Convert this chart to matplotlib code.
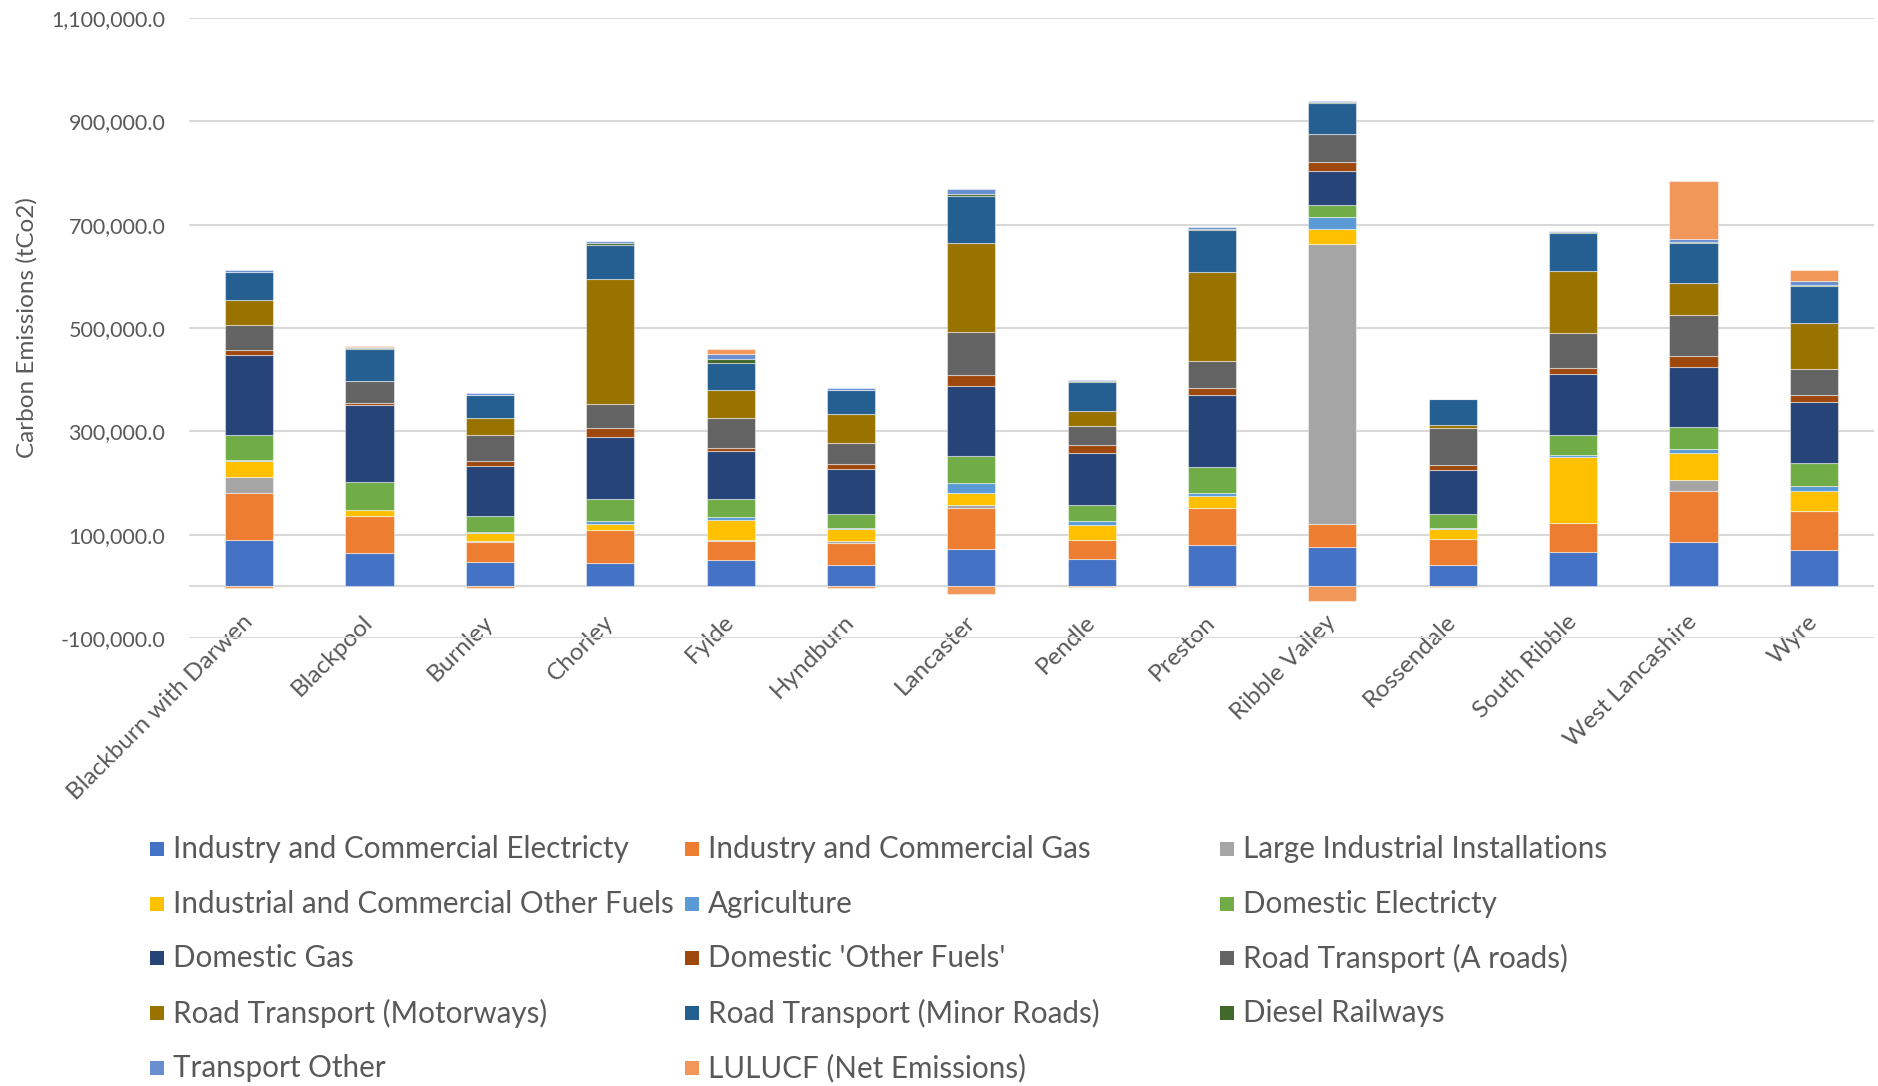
import numpy as np
import matplotlib
matplotlib.use("Agg")
import matplotlib.pyplot as plt
from matplotlib.patches import Rectangle
from matplotlib.ticker import FuncFormatter

plt.rcParams['font.family'] = ['Lato', 'DejaVu Sans']

districts = ["Blackburn with Darwen", "Blackpool", "Burnley", "Chorley", "Fylde",
             "Hyndburn", "Lancaster", "Pendle", "Preston", "Ribble Valley",
             "Rossendale", "South Ribble", "West Lancashire", "Wyre"]

# emissions by sector, tCO2, one value per district
ic_elec = [90400, 65000, 47100, 45200, 51600, 40600, 72200, 52200, 79100, 75800, 41900, 65800, 85100, 71000]
ic_gas = [91200, 71500, 38700, 63800, 36800, 43200, 78700, 38100, 73200, 45100, 49700, 56800, 98700, 74200]
large_ind = [30100, 0, 1000, 0, 2000, 4500, 5800, 0, 0, 541200, 0, 0, 22600, 0]
ic_other = [31000, 10500, 16800, 11000, 38000, 23200, 23900, 29000, 22900, 30100, 20000, 127100, 51600, 38700]
agriculture = [2400, 500, 1000, 5800, 5800, 1000, 19400, 6500, 5200, 22200, 1000, 3900, 7700, 11000]
dom_elec = [48000, 54500, 31900, 42600, 34800, 27700, 52900, 31600, 49700, 24200, 27100, 40000, 43200, 43900]
dom_gas = [154800, 148800, 96700, 120600, 92200, 87100, 135500, 100000, 139900, 64700, 84500, 116700, 115500, 117400]
dom_other = [9000, 4000, 9000, 17400, 6500, 9000, 20000, 16100, 14400, 17600, 10300, 12900, 20600, 13500]
road_a = [49700, 42300, 50900, 47100, 57400, 41900, 83200, 37400, 52300, 54900, 72900, 67100, 80000, 51600]
motorways = [47200, 0, 32900, 241900, 54200, 54800, 173500, 28400, 171900, 0, 3900, 120600, 62600, 88400]
minor_roads = [53800, 62600, 43900, 66000, 52200, 46400, 89700, 55500, 80400, 58800, 51000, 72900, 76800, 71000]
diesel_rail = [800, 1000, 1000, 4000, 7700, 500, 3900, 2000, 3300, 3300, 0, 2000, 2000, 2000]
transport_other = [3000, 2500, 3500, 3000, 9700, 4500, 10300, 3200, 3300, 1000, 600, 2000, 6500, 7700]
lulucf = [-3500, 1000, -2500, 0, 9700, -3000, -14800, -2000, -2000, -28000, -2000, 0, 112200, 21300]

series = [
    ("Industry and Commercial Electricty", ic_elec, "#4472C4"),
    ("Industry and Commercial Gas", ic_gas, "#ED7D31"),
    ("Large Industrial Installations", large_ind, "#A5A5A5"),
    ("Industrial and Commercial Other Fuels", ic_other, "#FFC000"),
    ("Agriculture", agriculture, "#5B9BD5"),
    ("Domestic Electricty", dom_elec, "#70AD47"),
    ("Domestic Gas", dom_gas, "#264478"),
    ("Domestic 'Other Fuels'", dom_other, "#9E480E"),
    ("Road Transport (A roads)", road_a, "#636363"),
    ("Road Transport (Motorways)", motorways, "#997300"),
    ("Road Transport (Minor Roads)", minor_roads, "#255E91"),
    ("Diesel Railways", diesel_rail, "#43682B"),
    ("Transport Other", transport_other, "#698ED0"),
    ("LULUCF (Net Emissions)", lulucf, "#F1975A"),
]

TEXT = "#595959"
GRID = "#D9D9D9"

fig = plt.figure(figsize=(18.78, 10.86), dpi=100)
ax = fig.add_axes([189 / 1878, 1 - 638 / 1086, 1685 / 1878, 620 / 1086])

x = np.arange(len(districts))
pos_base = np.zeros(len(districts))
neg_base = np.zeros(len(districts))
for name, vals, color in series:
    v = np.array(vals, dtype=float)
    bottom = np.where(v >= 0, pos_base, neg_base)
    ax.bar(x, v, 0.4, bottom=bottom, color=color, edgecolor=(1, 1, 1, 0.45),
           linewidth=0.8, zorder=3)
    pos_base += np.where(v >= 0, v, 0)
    neg_base += np.where(v < 0, v, 0)

ax.set_xlim(-0.5, len(districts) - 0.5)
ax.set_ylim(-100000, 1100000)
ax.set_yticks(np.arange(-100000, 1100001, 200000))
ax.yaxis.set_major_formatter(FuncFormatter(lambda v, p: f"{v:,.1f}"))
ax.grid(axis='y', color=GRID, linewidth=1.5, zorder=0)
ax.axhline(0, color=GRID, linewidth=1.5, zorder=1)
for s in ax.spines.values():
    s.set_visible(False)
ax.tick_params(axis='y', length=0, pad=17, labelsize=15.5, labelcolor=TEXT)

ax.set_xticks(x)
ax.set_xticklabels(districts, rotation=45, ha='right', va='center',
                   rotation_mode='anchor')
ax.tick_params(axis='x', length=0, pad=-14, labelsize=17.5, labelcolor=TEXT)

fig.text(27 / 1878, 1 - 328 / 1086, "Carbon Emissions (tCo2)", rotation=90,
         ha='center', va='center', fontsize=17.5, color=TEXT)

# legend laid out in three fixed columns, filled row by row
col_x = [150, 685, 1220]
row_y = [849, 904, 958, 1013, 1068]
for i, (name, vals, color) in enumerate(series):
    cx = col_x[i % 3]
    cy = row_y[i // 3]
    fig.patches.append(Rectangle((cx / 1878, 1 - (cy + 7) / 1086), 14 / 1878, 14 / 1086,
                                 transform=fig.transFigure, facecolor=color,
                                 edgecolor='none'))
    fig.text((cx + 23) / 1878, 1 - cy / 1086, name, ha='left', va='center',
             fontsize=21.3, color=TEXT)

fig.savefig("out.png", dpi=100)
